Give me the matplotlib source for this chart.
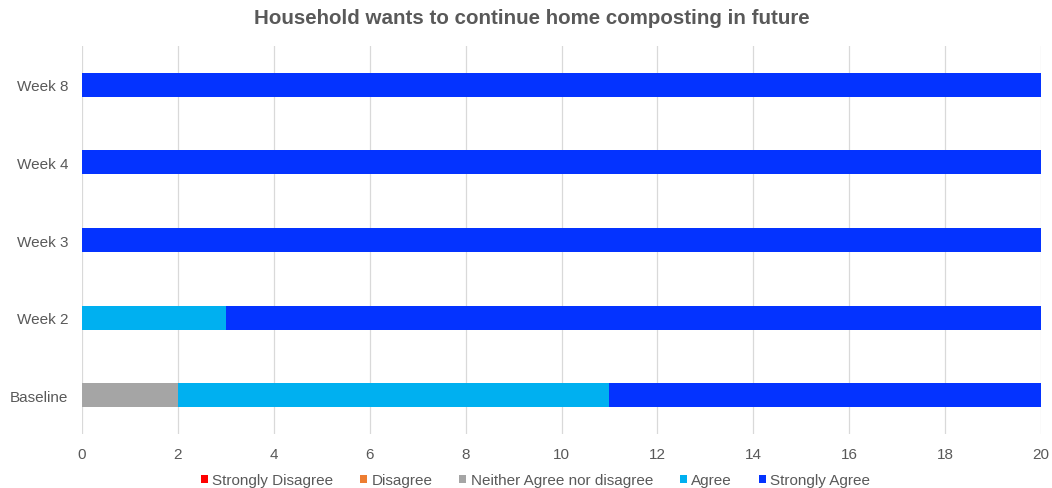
import matplotlib.pyplot as plt
import numpy as np

plt.rcParams["font.family"] = ["Liberation Sans", "DejaVu Sans"]

# Response counts per survey round
weeks = ["Baseline", "Week 2", "Week 3", "Week 4", "Week 8"]
strongly_disagree = [0, 0, 0, 0, 0]
disagree = [0, 0, 0, 0, 0]
neither = [2, 0, 0, 0, 0]
agree = [9, 3, 0, 0, 0]
strongly_agree = [9, 17, 20, 20, 20]

series = [
    ("Strongly Disagree", strongly_disagree, "#FF0000"),
    ("Disagree", disagree, "#ED7D31"),
    ("Neither Agree nor disagree", neither, "#A5A5A5"),
    ("Agree", agree, "#00B0F0"),
    ("Strongly Agree", strongly_agree, "#0433FF"),
]

fig = plt.figure(figsize=(10.52, 4.89), dpi=100)
ax = fig.add_axes([0.078, 0.110, 0.9115, 0.794])

y = np.arange(len(weeks))
left = np.zeros(len(weeks))
for name, vals, color in series:
    ax.barh(y, vals, left=left, height=0.31, color=color, label=name, zorder=2)
    left += np.array(vals)

ax.set_xlim(0, 20)
ax.set_ylim(-0.5, len(weeks) - 0.5)
ax.set_xticks(range(0, 21, 2))
ax.set_yticks(y)
ax.set_yticklabels(weeks)
ax.tick_params(axis="both", length=0, labelsize=11, colors="#595959")
ax.tick_params(axis="x", pad=9)
ax.tick_params(axis="y", pad=10)
ax.grid(axis="x", color="#D9D9D9", linewidth=0.9, zorder=0)
for s in ax.spines.values():
    s.set_visible(False)

fig.suptitle("Household wants to continue home composting in future",
             x=0.506, y=0.963, va="center",
             fontsize=14.8, fontweight="bold", color="#595959")

ax.legend(loc="center", bbox_to_anchor=(0.473, -0.119), ncol=5,
          frameon=False, fontsize=11, handlelength=0.45, handleheight=0.45,
          handletextpad=0.3, columnspacing=1.75, labelcolor="#595959",
          borderpad=0)

fig.savefig("out.png", dpi=100)
